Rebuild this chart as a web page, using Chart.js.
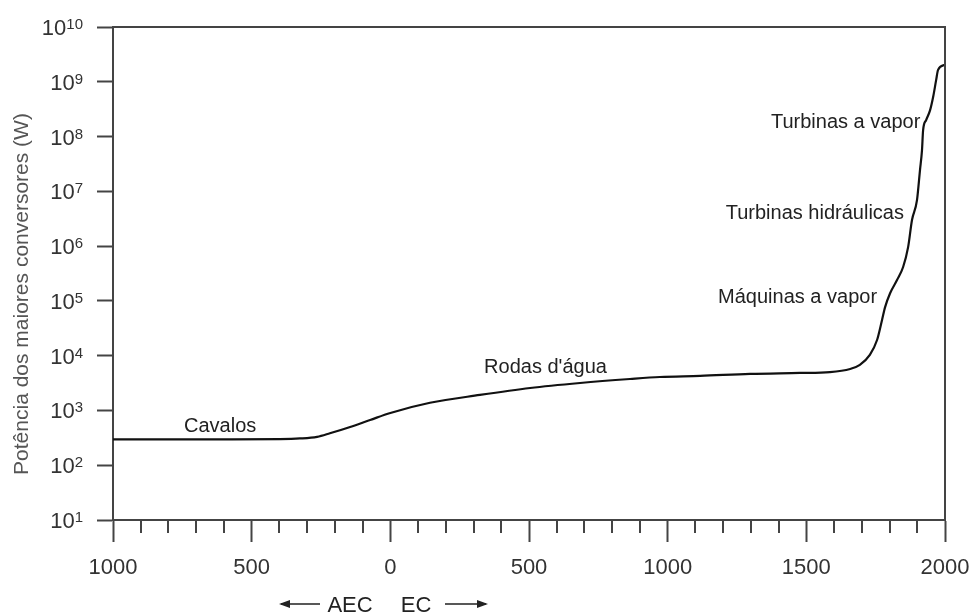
<!DOCTYPE html>
<html lang="pt">
<head>
    <meta charset="UTF-8">
    <title>Potência dos maiores conversores</title>
    <script src="https://cdn.jsdelivr.net/npm/chart.js"></script>
    <style>
        body {
            margin: 0;
            padding: 0;
            background: #fff;
        }
        #wrap {
            width: 974px;
            height: 615px;
        }
    </style>
</head>
<body>
    <div id="wrap">
        <canvas id="powerChart" width="974" height="615"></canvas>
    </div>

    <script>
        // anos (negativo = AEC) e potência em watts
        const years = [-1000, -600, -398, -326, -264, -218, -145, -73, 0, 143, 323, 504, 684, 864, 972,
            1117, 1297, 1477, 1585, 1658, 1693, 1729, 1755, 1773, 1784, 1802, 1827, 1849, 1867,
            1881, 1899, 1910, 1917, 1921, 1932, 1946, 1957, 1968, 1975, 2000];
        const watts = [297, 297, 300, 308, 330, 383, 500, 670, 900, 1380, 1920, 2570, 3170, 3750, 4080,
            4270, 4650, 4840, 5020, 5720, 6770, 10300, 19300, 45000, 77000, 138000, 240000, 415000, 960000,
            3.0e6, 6.9e6, 2.5e7, 5.6e7, 1.3e8, 2.0e8, 3.0e8, 5.2e8, 1.07e9, 1.65e9, 2.05e9];

        const decades = [1e1, 1e2, 1e3, 1e4, 1e5, 1e6, 1e7, 1e8, 1e9, 1e10];
        const decadeExp = ['1', '2', '3', '4', '5', '6', '7', '8', '9', '10'];

        const noteText = ['Cavalos', "Rodas d'água", 'Máquinas a vapor', 'Turbinas hidráulicas', 'Turbinas a vapor'];
        const noteYear = [-744, 338, 1755, 1852, 1911];
        const noteWatts = [405, 4830, 9.17e4, 3.13e6, 1.43e8];

        const yTitle = 'Potência dos maiores conversores (W)';
        const eraLeft = 'AEC';
        const eraRight = 'EC';

        const FONT = "'Liberation Sans', Arial, sans-serif";
        const AXIS = '#444';

        const extras = {
            id: 'extras',
            afterDraw(chart) {
                const ctx = chart.ctx;
                const area = chart.chartArea;
                const xs = chart.scales.x;
                const ys = chart.scales.y;
                ctx.save();

                // moldura superior e direita
                ctx.strokeStyle = AXIS;
                ctx.lineWidth = 2;
                ctx.beginPath();
                ctx.moveTo(area.left, area.top);
                ctx.lineTo(area.right, area.top);
                ctx.lineTo(area.right, area.bottom);
                ctx.stroke();

                // marcas menores a cada 100 anos
                ctx.beginPath();
                for (let v = -1000; v <= 2000; v += 100) {
                    if (v % 500 === 0) continue;
                    const px = Math.round(xs.getPixelForValue(v));
                    ctx.moveTo(px, area.bottom);
                    ctx.lineTo(px, area.bottom + 13);
                }
                ctx.stroke();

                // rótulos 10^n
                ctx.fillStyle = '#333';
                ctx.textAlign = 'left';
                ctx.textBaseline = 'alphabetic';
                decades.forEach((v, i) => {
                    const py = ys.getPixelForValue(v);
                    ctx.font = '15px ' + FONT;
                    const we = ctx.measureText(decadeExp[i]).width;
                    ctx.font = '22px ' + FONT;
                    const wb = ctx.measureText('10').width;
                    const right = 83;
                    ctx.fillText('10', right - we - wb, py + 8);
                    ctx.font = '15px ' + FONT;
                    ctx.fillText(decadeExp[i], right - we, py + 2);
                });

                // título do eixo y
                ctx.save();
                ctx.translate(22, 294);
                ctx.rotate(-Math.PI / 2);
                ctx.font = '21px ' + FONT;
                ctx.fillStyle = '#555';
                ctx.textAlign = 'center';
                ctx.textBaseline = 'middle';
                ctx.fillText(yTitle, 0, 0);
                ctx.restore();

                // AEC / EC com setas
                ctx.font = '22px ' + FONT;
                ctx.fillStyle = '#222';
                ctx.textAlign = 'center';
                ctx.textBaseline = 'alphabetic';
                ctx.fillText(eraLeft, 350, 612);
                ctx.fillText(eraRight, 416, 612);
                ctx.strokeStyle = '#222';
                ctx.lineWidth = 1.5;
                ctx.beginPath();
                ctx.moveTo(281, 604); ctx.lineTo(320, 604);
                ctx.moveTo(445, 604); ctx.lineTo(486, 604);
                ctx.stroke();
                ctx.fillStyle = '#222';
                ctx.beginPath();
                ctx.moveTo(279, 604); ctx.lineTo(290, 600); ctx.lineTo(290, 608); ctx.closePath();
                ctx.moveTo(488, 604); ctx.lineTo(477, 600); ctx.lineTo(477, 608); ctx.closePath();
                ctx.fill();

                // anotações
                ctx.font = '20px ' + FONT;
                ctx.fillStyle = '#222';
                noteText.forEach((t, i) => {
                    ctx.textAlign = i < 2 ? 'left' : 'right';
                    ctx.fillText(t, xs.getPixelForValue(noteYear[i]), ys.getPixelForValue(noteWatts[i]));
                });

                ctx.restore();
            }
        };

        new Chart(document.getElementById('powerChart'), {
            type: 'line',
            data: {
                datasets: [{
                    data: years.map((y, i) => ({ x: y, y: watts[i] })),
                    borderColor: '#111',
                    borderWidth: 2.2,
                    pointRadius: 0,
                    cubicInterpolationMode: 'monotone',
                    fill: false
                }]
            },
            options: {
                responsive: false,
                animation: false,
                events: [],
                layout: { padding: { top: 27, right: 29, left: 0, bottom: 0 } },
                plugins: {
                    legend: { display: false },
                    tooltip: { enabled: false }
                },
                scales: {
                    x: {
                        type: 'linear',
                        min: -1000,
                        max: 2000,
                        afterFit: s => { s.height = 95; s.paddingLeft = 0; s.paddingRight = 0; },
                        border: { color: AXIS, width: 2 },
                        grid: {
                            drawOnChartArea: false,
                            tickLength: 22,
                            tickWidth: 2,
                            tickColor: c => (c.tick && c.tick.value % 500 === 0) ? AXIS : 'rgba(0,0,0,0)'
                        },
                        ticks: {
                            stepSize: 100,
                            autoSkip: false,
                            maxRotation: 0,
                            padding: 13,
                            color: '#333',
                            font: { family: FONT, size: 22 },
                            callback: v => v % 500 === 0 ? String(Math.abs(v)) : ''
                        }
                    },
                    y: {
                        type: 'logarithmic',
                        min: 10,
                        max: 1e10,
                        afterBuildTicks: s => { s.ticks = decades.map(v => ({ value: v })); },
                        afterFit: s => { s.width = 113; s.paddingTop = 0; s.paddingBottom = 0; },
                        border: { color: AXIS, width: 2 },
                        grid: {
                            drawOnChartArea: false,
                            tickLength: 16,
                            tickWidth: 2,
                            tickColor: AXIS
                        },
                        ticks: {
                            callback: () => ''
                        }
                    }
                }
            },
            plugins: [extras]
        });
    </script>
</body>
</html>
